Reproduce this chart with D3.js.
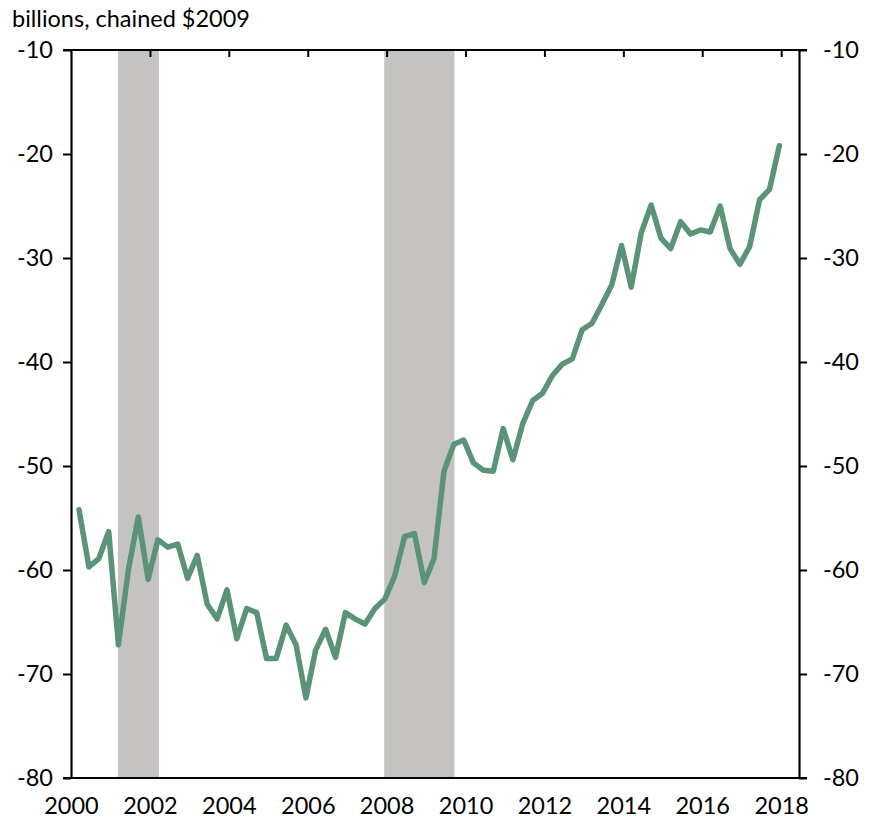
<!DOCTYPE html>
<html>
<head>
<meta charset="utf-8">
<script src="https://cdn.jsdelivr.net/npm/d3@7"></script>
<style>
    body { margin: 0; background: #fff; }
    #chart text { font-family: Lato, "Open Sans", sans-serif; fill: #000; }
</style>
</head>
<body>
<div id="chart"></div>
<script>
// quarterly series, 2000Q1 .. 2017Q4
let startYear = 2000
let values = [
    -54.2, -59.7, -58.9, -56.3,  -67.2, -60.0, -54.9, -60.9,
    -57.1, -57.8, -57.5, -60.8,  -58.6, -63.3, -64.7, -61.9,
    -66.6, -63.7, -64.1, -68.5,  -68.5, -65.3, -67.2, -72.3,
    -67.7, -65.7, -68.4, -64.1,  -64.7, -65.2, -63.7, -62.8,
    -60.6, -56.8, -56.5, -61.2,  -58.9, -50.5, -47.9, -47.5,
    -49.7, -50.4, -50.5, -46.4,  -49.4, -45.9, -43.7, -43.0,
    -41.3, -40.2, -39.7, -36.9,  -36.3, -34.5, -32.6, -28.8,
    -32.8, -27.6, -24.9, -28.1,  -29.1, -26.5, -27.7, -27.3,
    -27.5, -25.0, -29.1, -30.6,  -28.9, -24.4, -23.4, -19.2
]
// shaded recession periods (start, end as dates)
let recessions = [
    ["2001-03-10", "2002-03-25"],
    ["2007-12-10", "2009-09-20"]
]
let yTicks = [-10, -20, -30, -40, -50, -60, -70, -80]
let xTickYears = [2000, 2002, 2004, 2006, 2008, 2010, 2012, 2014, 2016, 2018]
let unitLabel = "billions, chained $2009"

class LineVis {

    constructor(parentElement) {
        this.parentElement = parentElement
        this.initVis()
    }

    initVis() {
        let vis = this

        vis.margin = {top: 50, right: 73, bottom: 42, left: 71}
        vis.width = 872 - vis.margin.left - vis.margin.right
        vis.height = 820 - vis.margin.top - vis.margin.bottom

        vis.svg = d3.select("#" + vis.parentElement).append("svg")
            .attr("width", 872)
            .attr("height", 820)
            .append("g")
            .attr("transform", `translate(${vis.margin.left}, ${vis.margin.top})`)

        vis.x = d3.scaleTime()
            .domain([new Date(2000, 0, 1), new Date(2018, 5, 15)])
            .range([0, vis.width])

        vis.y = d3.scaleLinear()
            .domain([-80, -10])
            .range([vis.height, 0])

        // each quarter is plotted mid-month of its last month
        vis.points = values.map((v, i) => ({
            date: new Date(startYear + Math.floor(i / 4), (i % 4) * 3 + 2, 15),
            value: v
        }))

        vis.wrangleData()
    }

    wrangleData() {
        let vis = this
        vis.bands = recessions.map(r => ({start: new Date(r[0]), end: new Date(r[1])}))
        vis.updateVis()
    }

    updateVis() {
        let vis = this

        // recession bars
        vis.svg.selectAll(".band")
            .data(vis.bands)
            .enter().append("rect")
            .attr("class", "band")
            .attr("x", d => vis.x(d.start))
            .attr("y", 0)
            .attr("width", d => vis.x(d.end) - vis.x(d.start))
            .attr("height", vis.height)
            .attr("fill", "#c4c3c2")

        // left / right value axes (plain hyphen for negatives)
        let fmt = d => String(d)
        let yLeft = d3.axisLeft(vis.y).tickValues(yTicks).tickFormat(fmt)
            .tickSize(8).tickSizeOuter(0).tickPadding(10)
        let yRight = d3.axisRight(vis.y).tickValues(yTicks).tickFormat(fmt)
            .tickSize(8).tickSizeOuter(0).tickPadding(16)

        vis.svg.append("g").attr("class", "y-axis").call(yLeft)
        vis.svg.append("g").attr("class", "y-axis")
            .attr("transform", `translate(${vis.width}, 0)`)
            .call(yRight)

        // top border with inward ticks every two years
        let xTop = d3.axisBottom(vis.x)
            .tickValues(xTickYears.slice(1).map(y => new Date(y, 0, 1)))
            .tickSize(7).tickSizeOuter(0).tickFormat("")
        vis.svg.append("g").attr("class", "x-top").call(xTop)

        // bottom axis with year labels, no tick marks
        let xBottom = d3.axisBottom(vis.x)
            .tickValues(xTickYears.map(y => new Date(y, 0, 1)))
            .tickSize(0).tickSizeOuter(0).tickPadding(19)
            .tickFormat(d3.timeFormat("%Y"))
        vis.svg.append("g").attr("class", "x-axis")
            .attr("transform", `translate(0, ${vis.height})`)
            .call(xBottom)

        vis.svg.selectAll(".domain").attr("stroke", "#000").attr("stroke-width", 2.2)
        vis.svg.selectAll(".tick line").attr("stroke", "#000").attr("stroke-width", 2)
        vis.svg.selectAll(".tick text").style("font-size", "23.5px")

        // extend top/bottom border out to the tick ends on both sides
        vis.svg.selectAll(".x-top .domain, .x-axis .domain")
            .attr("d", `M-8,0H${vis.width + 8}`)

        // series line
        let line = d3.line()
            .x(d => vis.x(d.date))
            .y(d => vis.y(d.value))

        vis.svg.append("path")
            .datum(vis.points)
            .attr("fill", "none")
            .attr("stroke", "#5a9377")
            .attr("stroke-width", 5.5)
            .attr("stroke-linejoin", "round")
            .attr("stroke-linecap", "round")
            .attr("d", line)

        // unit label
        vis.svg.append("text")
            .attr("x", -59)
            .attr("y", -23)
            .style("font-size", "23.5px")
            .text(unitLabel)
    }
}

new LineVis("chart")
</script>
</body>
</html>
